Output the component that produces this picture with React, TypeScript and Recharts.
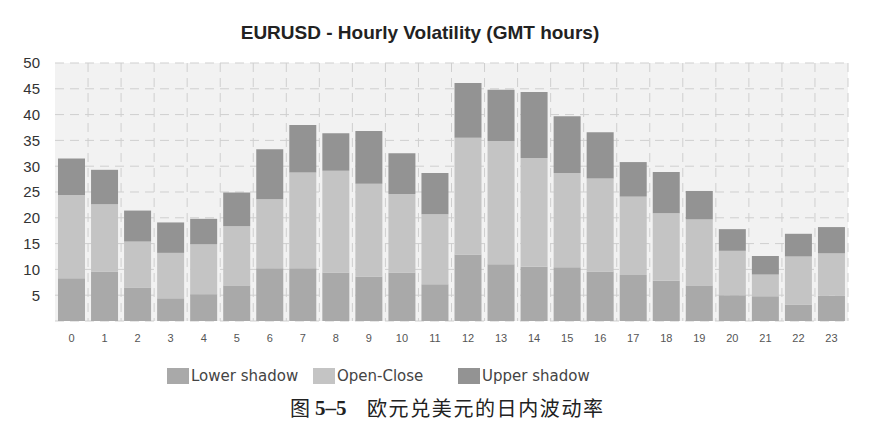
import React from "react";
import { BarChart, Bar, XAxis, YAxis, CartesianGrid } from "recharts";

const hours = ["0","1","2","3","4","5","6","7","8","9","10","11","12","13","14","15","16","17","18","19","20","21","22","23"];
const lowerShadow = [8.3,9.6,6.5,4.4,5.2,6.9,10.2,10.2,9.4,8.6,9.4,7.1,12.9,11.0,10.5,10.4,9.6,8.9,7.8,6.9,5.0,4.8,3.2,4.9];
const openClose = [16.1,13.0,8.9,8.8,9.7,11.5,13.4,18.6,19.7,18.0,15.2,13.6,22.6,23.9,21.1,18.3,18.0,15.2,13.1,12.8,8.6,4.2,9.3,8.2];
const upperShadow = [7.1,6.7,6.0,5.9,4.9,6.5,9.7,9.2,7.3,10.2,7.9,8.0,10.6,9.9,12.8,11.0,9.0,6.7,8.0,5.5,4.2,3.6,4.4,5.1];
const yTicks = [5,10,15,20,25,30,35,40,45,50];

const data = hours.map((h, i) => ({
  hour: h,
  lower: lowerShadow[i],
  oc: openClose[i],
  upper: upperShadow[i],
}));

const C_LOWER = "#a9a9a9";
const C_OC = "#c4c4c4";
const C_UPPER = "#939393";

const vGen = (props: any) => {
  const off = props.offset || {};
  const left = off.left ?? 55;
  const w = off.width ?? 793;
  const res: number[] = [];
  for (let i = 1; i <= hours.length; i++) res.push(left + (w * i) / hours.length);
  return res;
};

const legendItems = [
  { label: "Lower shadow", color: C_LOWER, x: 167 },
  { label: "Open-Close", color: C_OC, x: 313 },
  { label: "Upper shadow", color: C_UPPER, x: 458 },
];

export default function App() {
  return (
    <div style={{ position: "absolute", left: 0, top: 0, width: 886, height: 427, background: "#fff", overflow: "hidden" }}>
      <div
        style={{
          position: "absolute",
          left: 0,
          width: 840,
          top: 21,
          textAlign: "center",
          fontFamily: "'Liberation Sans', Arial, sans-serif",
          fontWeight: "bold",
          fontSize: 19,
          color: "#222",
          lineHeight: "24px",
        }}
      >
        EURUSD - Hourly Volatility (GMT hours)
      </div>
      <BarChart
        width={886}
        height={427}
        data={data}
        margin={{ top: 63, right: 38, left: 0, bottom: 76 }}
        barSize={27}
      >
        <CartesianGrid
          stroke="#cfcfcf"
          strokeDasharray="9 6"
          fill="#f2f2f2"
          verticalCoordinatesGenerator={vGen}
        />
        <XAxis
          dataKey="hour"
          height={30}
          axisLine={false}
          tickLine={false}
          tickSize={0}
          tickMargin={13}
          interval={0}
          tick={{ fontSize: 11, fill: "#555", fontFamily: "'Liberation Sans', Arial, sans-serif" }}
        />
        <YAxis
          width={55}
          domain={[0, 50]}
          ticks={yTicks}
          axisLine={false}
          tickLine={false}
          tickSize={0}
          tickMargin={15}
          tick={{ fontSize: 15, fill: "#333", fontFamily: "'Liberation Sans', Arial, sans-serif" }}
        />
        <Bar dataKey="lower" stackId="a" fill={C_LOWER} isAnimationActive={false} />
        <Bar dataKey="oc" stackId="a" fill={C_OC} isAnimationActive={false} />
        <Bar dataKey="upper" stackId="a" fill={C_UPPER} isAnimationActive={false} />
      </BarChart>
      {legendItems.map((it) => (
        <div key={it.label} style={{ position: "absolute", left: it.x, top: 368, display: "flex", alignItems: "center", height: 16 }}>
          <div style={{ width: 22, height: 16, background: it.color }} />
          <span
            style={{
              marginLeft: 2,
              fontFamily: "'DejaVu Sans', Verdana, sans-serif",
              fontSize: 15,
              color: "#444",
              lineHeight: "16px",
              whiteSpace: "nowrap",
            }}
          >
            {it.label}
          </span>
        </div>
      ))}
      <div style={{ position: "absolute", left: 290, top: 396, fontFamily: "'Noto Sans CJK SC', sans-serif", fontSize: 20, lineHeight: "24px", color: "#222" }}>
        图
      </div>
      <div style={{ position: "absolute", left: 315, top: 396, fontFamily: "'Liberation Serif', serif", fontWeight: "bold", fontSize: 21, lineHeight: "24px", color: "#222" }}>
        5–5
      </div>
      <div style={{ position: "absolute", left: 367, top: 396, fontFamily: "'Noto Sans CJK SC', sans-serif", fontSize: 20, letterSpacing: 1.6, lineHeight: "24px", color: "#222", whiteSpace: "nowrap" }}>
        欧元兑美元的日内波动率
      </div>
    </div>
  );
}
